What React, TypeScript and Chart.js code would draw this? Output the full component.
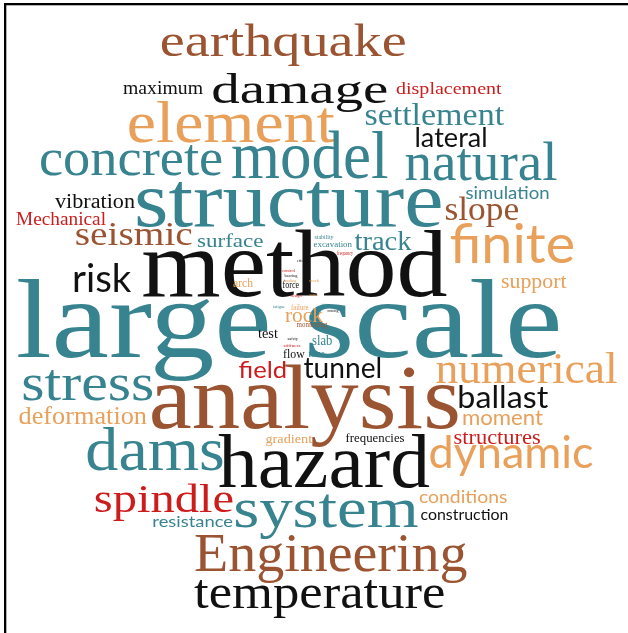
import React, { useEffect, useRef } from "react";
import { Chart, registerables } from "chart.js";

Chart.register(...registerables);

// ---- data: words and their weights (font size) ----
const WORDS: string[] = [
  "earthquake", "maximum", "damage", "displacement", "element", "settlement", "lateral",
  "concrete", "model", "natural", "structure", "vibration", "simulation", "Mechanical",
  "slope", "seismic", "surface", "track", "finite", "risk", "method", "support",
  "large scale", "arch", "force", "stability", "excavation", "frequency", "rock", "failure",
  "monitoring", "test", "safety", "slab", "stiffness", "flow", "time", "tunnel", "field",
  "stress", "numerical", "analysis", "ballast", "deformation", "moment", "gradient",
  "frequencies", "structures", "dams", "hazard", "dynamic", "spindle", "system",
  "conditions", "construction", "resistance", "Engineering", "temperature",
  "control", "bearing", "loading", "crack", "wave", "design", "effect", "joint", "mining", "fatigue",
];
const WEIGHTS: number[] = [
  46, 18, 42, 17, 60, 31, 26,
  52, 67, 54, 78, 20, 18, 18,
  33, 33, 19, 28, 54, 38, 96, 20,
  112, 12, 10, 6, 9, 6, 20, 8,
  8, 14, 5, 15, 5, 12, 10, 28, 24,
  53, 44, 92, 30, 25, 22, 13,
  13, 21, 62, 76, 44, 40, 58,
  17, 16, 16, 55, 48,
  4, 4, 4, 4, 4, 4, 4, 4, 4, 4,
];

// ---- layout (cloud placement in scale units) ----
const POS_X: number[] = [
  283, 163, 300, 449, 232, 435, 451,
  131, 310, 481, 289, 95, 507, 61,
  482, 134, 230, 383, 512, 103, 295, 534,
  288, 243, 291, 324, 333, 345, 304, 300,
  312, 268, 293, 322, 292, 294, 317, 342, 262,
  88, 527, 305, 504, 83, 503, 289,
  375, 497, 155, 324, 511, 164, 327,
  463, 464, 193, 331, 319,
  289, 291, 290, 314, 314, 296, 302, 325, 333, 279,
];
const POS_Y: number[] = [
  56, 94, 103, 94, 142, 125, 147,
  175, 178, 180, 226, 208, 199, 225,
  220, 245, 247, 250, 263, 292, 296, 288,
  357, 287, 288, 239, 247, 255, 322, 310,
  327, 338, 340, 345, 347, 358, 357, 378, 378,
  400, 383, 428, 408, 424, 425, 443,
  442, 444, 470, 487, 468, 512, 527,
  503, 520, 527, 571, 608,
  272, 277, 282, 282, 296, 297, 262, 306, 312, 308,
];
const FIT_W: number[] = [
  244, 80, 175, 106, 206, 139, 71,
  182, 156, 151, 303, 80, 83, 90,
  73, 116, 66, 57, 123, 58, 303, 66,
  540, 20, 17, 19, 39, 16, 38, 18,
  31, 20, 11, 20, 17, 22, 17, 77, 47,
  129, 181, 306, 89, 129, 80, 47,
  59, 87, 135, 212, 163, 138, 183,
  88, 87, 79, 272, 250,
  14, 13, 13, 10, 9, 11, 10, 9, 11, 12,
];
// colour keys: T teal, B brown, K black, O orange, R red
const COLOR_KEY: string[] = [
  "B", "K", "K", "R", "O", "T", "K",
  "T", "T", "T", "T", "K", "T", "R",
  "B", "B", "T", "T", "O", "K", "K", "O",
  "T", "O", "K", "T", "T", "R", "O", "O",
  "B", "K", "K", "T", "R", "K", "T", "K", "R",
  "T", "O", "B", "K", "O", "O", "O",
  "K", "R", "T", "K", "O", "R", "T",
  "O", "K", "T", "B", "K",
  "R", "K", "O", "O", "O", "R", "K", "T", "K", "T",
];
// font keys: S serif, A sans
const FONT_KEY: string[] = [
  "S", "S", "S", "S", "S", "S", "A",
  "S", "S", "S", "S", "S", "A", "S",
  "S", "S", "S", "S", "A", "A", "S", "S",
  "S", "S", "S", "S", "S", "S", "S", "S",
  "S", "S", "S", "S", "S", "S", "S", "A", "A",
  "S", "S", "S", "A", "S", "A", "S",
  "S", "S", "S", "S", "A", "S", "S",
  "A", "A", "A", "S", "S",
  "S", "S", "S", "S", "S", "S", "S", "S", "S", "S",
];

const PALETTE: Record<string, string> = {
  T: "#37838f",
  B: "#9b5432",
  K: "#111111",
  O: "#e8a05a",
  R: "#cc1c1c",
};
const FAMILY: Record<string, string> = {
  S: '"Liberation Serif", "Times New Roman", serif',
  A: 'Lato, "Liberation Sans", Arial, sans-serif',
};

const wordPlugin = {
  id: "wordCloudText",
  beforeDraw(chart: any) {
    const ctx = chart.ctx;
    ctx.save();
    ctx.fillStyle = "#ffffff";
    ctx.fillRect(0, 0, chart.width, chart.height);
    ctx.fillStyle = "#000000";
    ctx.fillRect(4, 3, chart.width - 4, 2.3);
    ctx.fillRect(4, 3, 2.3, chart.height - 3);
    ctx.restore();
  },
  afterDatasetsDraw(chart: any) {
    const ctx = chart.ctx;
    const meta = chart.getDatasetMeta(0);
    meta.data.forEach((el: any, i: number) => {
      const word = WORDS[i];
      ctx.save();
      ctx.font = `${WEIGHTS[i]}px ${FAMILY[FONT_KEY[i]]}`;
      ctx.textAlign = "left";
      ctx.textBaseline = "alphabetic";
      const m = ctx.measureText(word);
      const l = m.actualBoundingBoxLeft;
      const r = m.actualBoundingBoxRight;
      const ink = l + r || m.width;
      const sx = FIT_W[i] / ink;
      ctx.translate(el.x, el.y);
      ctx.scale(sx, 1);
      ctx.fillStyle = PALETTE[COLOR_KEY[i]];
      ctx.fillText(word, -(r - l) / 2, 0);
      ctx.restore();
    });
  },
};

export default function App() {
  const ref = useRef<HTMLCanvasElement | null>(null);
  useEffect(() => {
    if (!ref.current) return;
    const chart = new Chart(ref.current, {
      type: "scatter",
      data: {
        datasets: [
          {
            data: WORDS.map((_, i) => ({ x: POS_X[i], y: POS_Y[i] })),
            pointRadius: 0,
            pointHoverRadius: 0,
          },
        ],
      },
      options: {
        animation: false,
        responsive: false,
        events: [],
        layout: { padding: 0 },
        plugins: { legend: { display: false }, tooltip: { enabled: false } },
        scales: {
          x: { type: "linear", min: 0, max: 628, display: false },
          y: { type: "linear", min: 0, max: 633, reverse: true, display: false },
        },
      },
      plugins: [wordPlugin],
    });
    return () => chart.destroy();
  }, []);
  return (
    <div style={{ position: "fixed", left: 0, top: 0, width: 628, height: 633 }}>
      <canvas ref={ref} width={628} height={633} />
    </div>
  );
}
